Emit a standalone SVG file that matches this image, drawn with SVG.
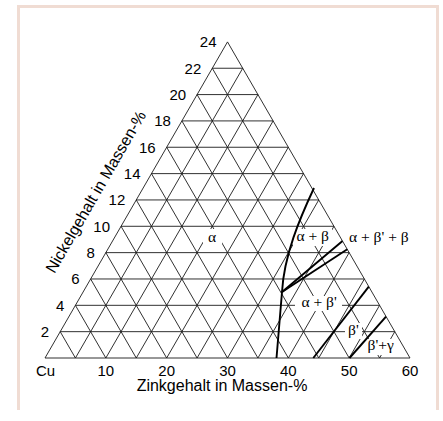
<svg xmlns="http://www.w3.org/2000/svg" width="443" height="421" viewBox="0 0 443 421">
<style>
.frame{fill:none;stroke:#f0dcd3;stroke-width:3}
.grid{fill:none;stroke:#1a1a1a;stroke-width:0.9}
.phase{fill:none;stroke:#000;stroke-width:1.9;stroke-linejoin:round}
.num{font-family:"Liberation Sans",Arial,sans-serif;font-size:15px;fill:#000}
.ax{font-family:"Liberation Sans",Arial,sans-serif;font-size:16px;fill:#000}
.gr{font-family:"Liberation Serif","Times New Roman",serif;font-size:15.5px;fill:#000}
.bg{fill:#fff}
</style>
<rect width="443" height="421" fill="#fff"/>
<path class="frame" d="M18.5 410V6.5H437.5V410"/>
<g id="grid">
<path class="grid" d="M45 358L410 358L227.5 41.9Z"/>
<path class="grid" d="M60.21 331.66H394.79M75.42 305.32H379.58M90.63 278.97H364.38M105.83 252.63H349.17M121.04 226.29H333.96M136.25 199.95H318.75M151.46 173.61H303.54M166.67 147.26H288.33M181.88 120.92H273.13M197.08 94.58H257.92M212.29 68.24H242.71"/>
<path class="grid" d="M75.42 358L60.21 331.66M105.83 358L75.42 305.32M136.25 358L90.63 278.97M166.67 358L105.83 252.63M197.08 358L121.04 226.29M227.5 358L136.25 199.95M257.92 358L151.46 173.61M288.33 358L166.67 147.26M318.75 358L181.88 120.92M349.17 358L197.08 94.58M379.58 358L212.29 68.24"/>
<path class="grid" d="M75.42 358L242.71 68.24M105.83 358L257.92 94.58M136.25 358L273.13 120.92M166.67 358L288.33 147.26M197.08 358L303.54 173.61M227.5 358L318.75 199.95M257.92 358L333.96 226.29M288.33 358L349.17 252.63M318.75 358L364.38 278.97M349.17 358L379.58 305.32M379.58 358L394.79 331.66"/>
</g>
<g id="label-backgrounds">
<rect class="bg" x="203" y="229" width="19" height="18"/>
<rect class="bg" x="293" y="229" width="39" height="17"/>
<rect class="bg" x="347" y="230" width="66" height="17"/>
<rect class="bg" x="295" y="296" width="47" height="15"/>
<rect class="bg" x="345" y="323" width="17" height="16"/>
<rect class="bg" x="365" y="339" width="32" height="16"/>
</g>
<g id="connectors">
<path class="phase" d="M314 188C300 218 284 255 282 292L276.5 358"/>
<path class="phase" d="M282 292L342.5 241"/>
<path class="phase" d="M282 292L347.3 249.3"/>
<path class="phase" d="M313.3 358L368.8 286.7"/>
<path class="phase" d="M349.5 358L386 316.7"/>
</g>
<g id="ni-axis" class="num" text-anchor="end">
<text x="49.2" y="337.1">2</text>
<text x="64.4" y="310.7">4</text>
<text x="79.6" y="284.4">6</text>
<text x="94.8" y="258">8</text>
<text x="110" y="231.7">10</text>
<text x="125.3" y="205.3">12</text>
<text x="140.5" y="179">14</text>
<text x="155.7" y="152.7">16</text>
<text x="170.9" y="126.3">18</text>
<text x="186.1" y="100">20</text>
<text x="201.3" y="73.6">22</text>
<text x="216.5" y="47.3">24</text>
</g>
<g id="zn-axis" class="num" text-anchor="middle">
<text x="45.5" y="375.5">Cu</text>
<text x="105.8" y="375.5">10</text>
<text x="166.7" y="375.5">20</text>
<text x="227.5" y="375.5">30</text>
<text x="288.3" y="375.5">40</text>
<text x="349.2" y="375.5">50</text>
<text x="410" y="375.5">60</text>
</g>
<g id="axis-titles" class="ax" text-anchor="middle">
<text x="222" y="391">Zinkgehalt in Massen-%</text>
<text transform="translate(100.5 194.6) rotate(-60)">Nickelgehalt in Massen-%</text>
</g>
<g id="phase-labels" class="gr">
<g id="n-alpha"><text x="208" y="242">α</text></g>
<g id="n-alpha-beta"><text x="296.5" y="241">α + β</text></g>
<g id="n-alpha-betap-beta"><text x="349" y="242">α + β' + β</text></g>
<g id="n-alpha-betap"><text x="301.5" y="306.5">α + β'</text></g>
<g id="n-betap"><text x="348" y="335">β'</text></g>
<g id="n-betap-gamma"><text x="367.5" y="350">β'+γ</text></g>
</g>
</svg>
